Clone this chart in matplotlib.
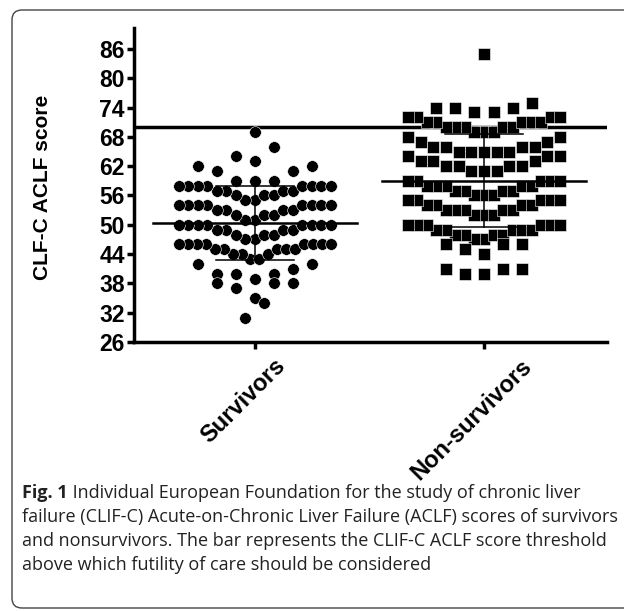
import matplotlib.pyplot as plt
import matplotlib.transforms as mtransforms
import numpy as np
from matplotlib.patches import FancyBboxPatch

groups = ["Survivors", "Non-survivors"]

# CLIF-C ACLF score of each patient
survivors = [
    69,
    63, 64, 66,
    59, 59, 59, 61, 61, 62, 62,
    55, 55, 56, 56, 56, 57, 57, 57, 57, 58, 58, 58, 58, 58, 58, 58, 58,
    51, 51, 52, 52, 52, 53, 53, 53, 53, 54, 54, 54, 54, 54, 54, 54, 54,
    47, 47, 48, 48, 48, 49, 49, 49, 49, 50, 50, 50, 50, 50, 50, 50, 50,
    43, 43, 44, 44, 44, 45, 45, 45, 45, 45, 46, 46, 46, 46, 46, 46, 46, 46,
    39, 40, 40, 40, 41, 42, 42,
    35, 37, 38, 38, 38,
    31, 34,
]
non_survivors = [
    85,
    73, 73, 74, 74, 74, 75,
    69, 69, 69, 70, 70, 70, 70, 70, 71, 71, 71, 71, 71, 72, 72, 72, 72,
    65, 65, 65, 65, 65, 66, 66, 66, 66, 67, 67, 68, 68,
    61, 61, 61, 62, 62, 62, 62, 63, 63, 63, 64, 64, 64,
    56, 56, 56, 57, 57, 57, 57, 58, 58, 58, 58, 58, 59, 59, 59, 59, 59,
    52, 52, 52, 53, 53, 53, 53, 53, 54, 54, 54, 54, 55, 55, 55, 55, 55,
    47, 47, 48, 48, 48, 48, 49, 49, 49, 49, 49, 50, 50, 50, 50, 50, 50,
    44, 45, 46, 46, 46,
    40, 40, 41, 41, 41,
]
threshold = 70
y_ticks = list(range(26, 87, 6))

caption_lines = [
    "Individual European Foundation for the study of chronic liver",
    "failure (CLIF-C) Acute-on-Chronic Liver Failure (ACLF) scores of survivors",
    "and nonsurvivors. The bar represents the CLIF-C ACLF score threshold",
    "above which futility of care should be considered",
]


def row_offsets(values, origin, step, gap=0.083, half_width=0.332):
    # prism-like scatter: points binned into rows, lowest value in the middle
    values = np.asarray(values, float)
    xs = np.zeros(len(values))
    rows = np.floor((values - origin) / step)
    for r in np.unique(rows):
        idx = np.where(rows == r)[0]
        idx = idx[np.argsort(values[idx], kind="stable")]
        n = len(idx)
        sp = gap if n < 2 else min(gap, 2 * half_width / (n - 1))
        if n % 2:
            slots, k = [0.0], 1.0
        else:
            slots, k = [], 0.5
        while len(slots) < n:
            slots += [-k, k]
            k += 1
        xs[idx] = np.array(slots[:n]) * sp
    return xs


fig = plt.figure(figsize=(6.24, 6.11), dpi=100)
ax = fig.add_axes([134 / 624, 269 / 611, 473 / 624, 314 / 611])

data = [survivors, non_survivors]
markers = ["o", "s"]
binning = [(31, 4.0), (38.3, 4.3)]

for i, (vals, m, (org, stp)) in enumerate(zip(data, markers, binning)):
    pos = i + 1
    xs = pos + row_offsets(vals, org, stp)
    ax.plot(xs, vals, linestyle="none", marker=m, markersize=8.4,
            markerfacecolor="black", markeredgecolor="white",
            markeredgewidth=0.4, zorder=3)
    mean = np.mean(vals)
    sd = np.std(vals, ddof=1)
    ax.plot([pos - 0.445, pos + 0.445], [mean, mean], color="black", lw=1.8, zorder=4)
    ax.plot([pos, pos], [mean - sd, mean + sd], color="black", lw=1.1, zorder=4)
    for yy in (mean - sd, mean + sd):
        ax.plot([pos - 0.17, pos + 0.17], [yy, yy], color="black", lw=1.1, zorder=4)

ax.axhline(threshold, color="black", lw=2.5, zorder=2)

ax.set_xlim(0.472, 2.537)
ax.set_ylim(26, 90.3)
ax.set_yticks(y_ticks)
ax.set_xticks([1, 2])
ax.set_xticklabels(groups, rotation=45, ha="center")
for s in ("top", "right"):
    ax.spines[s].set_visible(False)
for s in ("left", "bottom"):
    ax.spines[s].set_linewidth(2.5)
ax.tick_params(direction="out", length=5, width=2.5, pad=1.5)
ax.tick_params(axis="x", pad=4)
for lab in ax.get_yticklabels():
    lab.set_fontfamily("Liberation Sans")
    lab.set_fontweight("bold")
    lab.set_fontsize(16.5)
shift = mtransforms.ScaledTranslation(-12 / 100, 0, fig.dpi_scale_trans)
for lab in ax.get_xticklabels():
    lab.set_fontfamily("Liberation Sans")
    lab.set_fontweight("bold")
    lab.set_fontsize(17)
    lab.set_transform(lab.get_transform() + shift)

fig.text(43 / 624, 1 - 187 / 611, "CLF-C ACLF score", rotation=90,
         ha="center", va="center", fontsize=15, fontweight="bold",
         family="Liberation Sans")

# caption
cap_font = ["Open Sans", "DejaVu Sans"]
cap_size = 13
baselines = [498, 522, 546, 570]
fig_lab = fig.text(22 / 624, 1 - baselines[0] / 611, "Fig. 1", fontsize=cap_size,
                   fontweight="bold", family=cap_font, va="baseline", color="#222222")
ax.annotate(" " + caption_lines[0], xy=(1, 0), xycoords=fig_lab,
            va="bottom", ha="left", fontsize=cap_size, family=cap_font, color="#222222")
for line, b in zip(caption_lines[1:], baselines[1:]):
    fig.text(22 / 624, 1 - b / 611, line, fontsize=cap_size, family=cap_font,
             va="baseline", color="#222222")

frame = FancyBboxPatch((12 / 624, 3 / 611), 1.1, 598 / 611,
                       boxstyle="round,pad=0,rounding_size=0.016",
                       transform=fig.transFigure, fill=False,
                       edgecolor="#444444", lw=1.0)
fig.patches.append(frame)

fig.savefig("out.png", dpi=100)
